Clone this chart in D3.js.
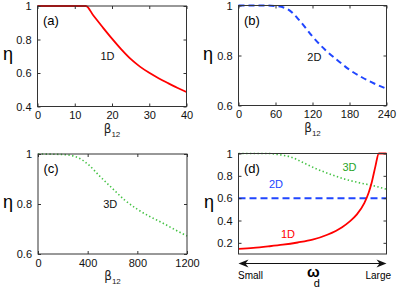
<!DOCTYPE html>
<html>
<head>
<meta charset="utf-8">
<script src="https://cdn.jsdelivr.net/npm/d3@7"></script>
<style>
  body { margin: 0; background: #fff; }
  text { font-family: "Liberation Sans", Arial, sans-serif; }
</style>
</head>
<body>
<div id="chart"></div>
<script>
// panel (a) 1D
let beta1D = [0, 13, 15, 17.5, 20, 22.5, 25, 27.5, 30, 32.5, 35, 37.5, 40];
let eta1D = [1, 1, 0.943, 0.873, 0.805, 0.741, 0.684, 0.638, 0.601, 0.569, 0.54, 0.512, 0.486];
// panel (b) 2D
let beta2D = [0, 40, 60, 80, 100, 120, 140, 160, 180, 200, 220, 240];
let eta2D = [1, 1, 0.998, 0.985, 0.937, 0.876, 0.824, 0.782, 0.743, 0.713, 0.688, 0.667];
// panel (c) 3D
let beta3D = [0, 200, 300, 400, 500, 600, 700, 800, 900, 1000, 1100, 1200];
let eta3D = [1, 0.998, 0.99, 0.96, 0.91, 0.862, 0.815, 0.779, 0.75, 0.725, 0.698, 0.672];
// panel (d) versus omega_d (arbitrary scale 0..1)
let omegaD1 = [0, 0.1, 0.2, 0.3, 0.4, 0.5, 0.6, 0.7, 0.75, 0.8, 0.85, 0.88, 0.9, 0.925, 0.948, 1];
let etaD1 = [0.146, 0.155, 0.168, 0.183, 0.203, 0.228, 0.272, 0.34, 0.39, 0.455, 0.555, 0.65, 0.74, 0.885, 1, 1];
let omegaD3 = [0, 0.2, 0.27, 0.35, 0.45, 0.53, 0.62, 0.72, 0.81, 0.9, 1];
let etaD3 = [1, 1, 0.99, 0.97, 0.91, 0.86, 0.815, 0.77, 0.74, 0.715, 0.68];
let omegaD2 = [0, 1];
let etaD2 = [0.6, 0.6];

let xTicksA = [0, 10, 20, 30, 40];
let xTicksB = [0, 60, 120, 180, 240];
let xTicksC = [0, 400, 800, 1200];
let yTicksA = [0.4, 0.6, 0.8, 1];
let yTicksBC = [0.6, 0.8, 1];
let yTicksD = [0.2, 0.4, 0.6, 0.8, 1];

let red = "#ff0000", blue = "#2046ff", green = "#44c244";

let svg = d3.select("#chart").append("svg")
    .attr("width", 399)
    .attr("height", 292);

function zip(xs, ys) {
    return xs.map((x, i) => ({ x: x, y: ys[i] }));
}

function panel(p) {
    let x = d3.scaleLinear().domain(p.xDomain).range([p.left, p.right]);
    let y = d3.scaleLinear().domain(p.yDomain).range([p.bottom, p.top]);
    let g = svg.append("g");

    // lines
    p.series.forEach(s => {
        g.append("path")
            .datum(zip(s.x, s.y))
            .attr("fill", "none")
            .attr("stroke", s.color)
            .attr("stroke-width", s.width)
            .attr("stroke-dasharray", s.dash || null)
            .attr("d", d3.line().x(d => x(d.x)).y(d => y(d.y)).curve(d3.curveMonotoneX));
    });

    // box and inward ticks, both sides
    let axisColor = "#333";
    let tl = 3;
    let bottomAx = g.append("g").attr("transform", "translate(0," + p.bottom + ")")
        .call(d3.axisBottom(x).tickValues(p.xTicks || []).tickSize(-tl).tickPadding(5).tickFormat(d => String(d)));
    let topAx = g.append("g").attr("transform", "translate(0," + p.top + ")")
        .call(d3.axisTop(x).tickValues(p.xTicks || []).tickSize(-tl).tickFormat(""));
    let leftAx = g.append("g").attr("transform", "translate(" + p.left + ",0)")
        .call(d3.axisLeft(y).tickValues(p.yTicks).tickSize(-tl).tickPadding(6).tickFormat(d => String(d)));
    let rightAx = g.append("g").attr("transform", "translate(" + p.right + ",0)")
        .call(d3.axisRight(y).tickValues(p.yTicks).tickSize(-tl).tickFormat(""));
    [bottomAx, topAx, leftAx, rightAx].forEach(a => {
        a.select(".domain").remove();
        a.selectAll("line").attr("stroke", axisColor);
        a.selectAll("text").attr("font-size", 11).attr("fill", "#111")
            .attr("font-family", "'Liberation Sans', Arial, sans-serif");
    });
    g.append("rect")
        .attr("x", p.left).attr("y", p.top)
        .attr("width", p.right - p.left).attr("height", p.bottom - p.top)
        .attr("fill", "none").attr("stroke", axisColor).attr("stroke-width", 1);

    // eta label
    g.append("text")
        .attr("x", p.etaX).attr("y", (p.top + p.bottom) / 2 + 4)
        .attr("text-anchor", "middle")
        .attr("font-size", 18)
        .attr("font-family", "'DejaVu Sans', sans-serif")
        .text("η");

    // panel letter
    g.append("text")
        .attr("x", p.left + 5.5).attr("y", p.top + 19)
        .attr("font-size", 13)
        .text(p.letter);

    // curve labels (y value = baseline)
    p.labels.forEach(l => {
        g.append("text")
            .attr("x", x(l.x)).attr("y", y(l.y))
            .attr("text-anchor", "middle")
            .attr("font-size", 11)
            .attr("fill", l.color)
            .text(l.text);
    });

    if (p.betaLabel) {
        let t = g.append("text")
            .attr("x", (p.left + p.right) / 2).attr("y", p.bottom + 26)
            .attr("text-anchor", "middle")
            .attr("font-size", 12)
            .attr("fill", "#222");
        t.append("tspan").attr("font-family", "'DejaVu Sans', sans-serif").text("β");
        t.append("tspan").attr("font-size", 8).attr("dy", 4).text("12");
    }
    return { x: x, y: y };
}

panel({
    left: 37.5, right: 186.5, top: 6, bottom: 106.5,
    xDomain: [0, 40], yDomain: [0.4, 1], xTicks: xTicksA, yTicks: yTicksA,
    etaX: 8, letter: "(a)", betaLabel: true,
    series: [{ x: beta1D, y: eta1D, color: red, width: 1.8 }],
    labels: [{ x: 18.8, y: 0.68, text: "1D", color: "#111" }]
});

panel({
    left: 238.5, right: 386.5, top: 5.5, bottom: 105.5,
    xDomain: [0, 240], yDomain: [0.6, 1], xTicks: xTicksB, yTicks: yTicksBC,
    etaX: 208, letter: "(b)", betaLabel: true,
    series: [{ x: beta2D, y: eta2D, color: blue, width: 2, dash: "6,4" }],
    labels: [{ x: 123, y: 0.78, text: "2D", color: "#111" }]
});

panel({
    left: 38, right: 187, top: 154, bottom: 254,
    xDomain: [0, 1200], yDomain: [0.6, 1], xTicks: xTicksC, yTicks: yTicksBC,
    etaX: 8, letter: "(c)", betaLabel: true,
    series: [{ x: beta3D, y: eta3D, color: green, width: 1.6, dash: "1.4,2.4" }],
    labels: [{ x: 582, y: 0.784, text: "3D", color: "#111" }]
});

panel({
    left: 238.5, right: 386.5, top: 153.5, bottom: 254,
    xDomain: [0, 1], yDomain: [0.1, 1], xTicks: [], yTicks: yTicksD,
    etaX: 209, letter: "(d)", betaLabel: false,
    series: [
        { x: omegaD3, y: etaD3, color: green, width: 1.6, dash: "1.4,2.4" },
        { x: omegaD2, y: etaD2, color: blue, width: 2, dash: "7,4" },
        { x: omegaD1, y: etaD1, color: red, width: 1.8 }
    ],
    labels: [
        { x: 0.75, y: 0.845, text: "3D", color: "#2aa52a" },
        { x: 0.253, y: 0.693, text: "2D", color: blue },
        { x: 0.334, y: 0.245, text: "1D", color: red }
    ]
});

// omega_d arrow below panel (d)
let ay = 263.5, ax0 = 238.5, ax1 = 386.5;
svg.append("line").attr("x1", ax0 + 3).attr("x2", ax1 - 3)
    .attr("y1", ay).attr("y2", ay).attr("stroke", "#111").attr("stroke-width", 1.2);
svg.append("path")
    .attr("d", "M" + ax0 + "," + ay + " l10,-4 l-3,4 l3,4 z")
    .attr("fill", "#111");
svg.append("path")
    .attr("d", "M" + ax1 + "," + ay + " l-10,-4 l3,4 l-3,4 z")
    .attr("fill", "#111");
svg.append("text").attr("x", 238).attr("y", 279).attr("font-size", 10).text("Small");
svg.append("text").attr("x", 391).attr("y", 279).attr("font-size", 10).attr("text-anchor", "end").text("Large");
let om = svg.append("text").attr("x", 307).attr("y", 277).attr("font-size", 15)
    .attr("font-family", "'DejaVu Sans', sans-serif").attr("font-weight", "bold");
om.append("tspan").text("ω");
om.append("tspan").attr("font-size", 11).attr("font-weight", "normal").attr("dy", 10).attr("dx", -6).text("d");
</script>
</body>
</html>
